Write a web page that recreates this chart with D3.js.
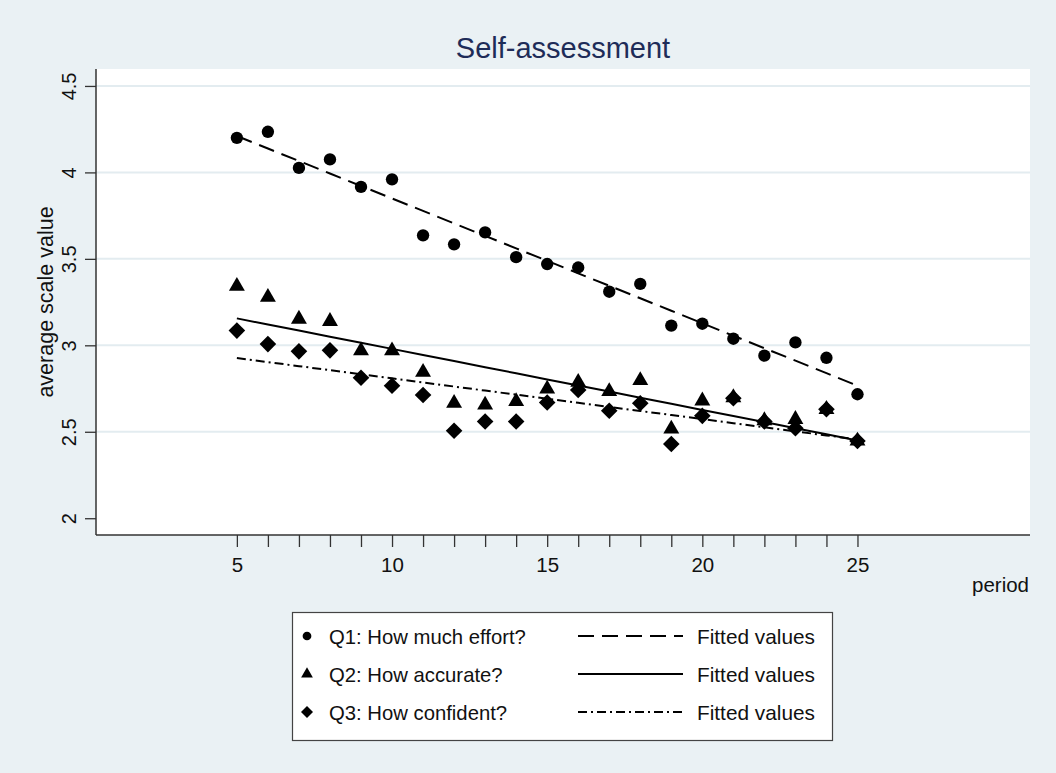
<!DOCTYPE html>
<html>
<head>
<meta charset="utf-8">
<script src="https://cdn.jsdelivr.net/npm/d3@7"></script>
<style>
  html, body { margin: 0; padding: 0; background: #eaf1f4; }
  svg { display: block; }
  text { font-family: "Liberation Sans", Arial, sans-serif; }
</style>
</head>
<body>
<svg id="chart" width="1056" height="773"></svg>
<script>
// ---- data ----
const periods = [5,6,7,8,9,10,11,12,13,14,15,16,17,18,19,20,21,22,23,24,25];
const q1Effort = [4.20,4.235,4.026,4.075,3.916,3.96,3.636,3.584,3.653,3.51,3.47,3.45,3.31,3.355,3.114,3.125,3.038,2.94,3.017,2.928,2.717];
const q2Accurate = [3.342,3.278,3.152,3.139,2.969,2.969,2.845,2.665,2.655,2.675,2.748,2.787,2.733,2.797,2.516,2.679,2.698,2.565,2.572,2.63,2.447];
const q3Confident = [3.085,3.007,2.965,2.971,2.812,2.766,2.713,2.506,2.559,2.559,2.669,2.742,2.622,2.665,2.429,2.592,2.694,2.559,2.52,2.63,2.447];
const seriesNames = ["Q1: How much effort?", "Q2: How accurate?", "Q3: How confident?"];
const fitName = "Fitted values";
const xTicksMajor = [5,10,15,20,25];
const xTicksMinor = d3.range(5, 26);
const yTicks = [2,2.5,3,3.5,4,4.5];
const yTickLabels = ["2","2.5","3","3.5","4","4.5"];
const titleText = "Self-assessment";
const xTitle = "period";
const yTitle = "average scale value";

// ---- layout ----
const svg = d3.select("#chart");
const plot = {left: 96, right: 1030, top: 69, bottom: 535};
const x = d3.scaleLinear().domain([0.46, 30.56]).range([plot.left, plot.right]);
const y = d3.scaleLinear().domain([1.903, 4.598]).range([plot.bottom, plot.top]);
const FONT = "Liberation Sans, Arial, sans-serif";

svg.append("rect").attr("width", 1056).attr("height", 773).attr("fill", "#eaf1f4");
svg.append("rect").attr("x", plot.left).attr("y", plot.top)
  .attr("width", plot.right - plot.left).attr("height", plot.bottom - plot.top).attr("fill", "#ffffff");

// grid
svg.append("g").selectAll("line").data(yTicks.filter(d => d > 2)).join("line")
  .attr("x1", plot.left).attr("x2", plot.right)
  .attr("y1", d => y(d)).attr("y2", d => y(d))
  .attr("stroke", "#e3ecf0").attr("stroke-width", 2);

// axes
const ax = svg.append("g").attr("transform", `translate(0,${plot.bottom})`)
  .call(d3.axisBottom(x).tickValues(xTicksMinor).tickSize(12).tickSizeOuter(0)
    .tickFormat(d => xTicksMajor.includes(d) ? String(d) : ""));
ax.select(".domain").remove();
ax.selectAll(".tick line").attr("stroke", "#333").attr("stroke-width", 1.3);
ax.selectAll(".tick text").attr("font-size", 20.5).attr("fill", "#111")
  .attr("y", 37).attr("dy", null)
  .attr("font-family", FONT);

const ay = svg.append("g").attr("transform", `translate(${plot.left},0)`)
  .call(d3.axisLeft(y).tickValues(yTicks).tickSize(11).tickSizeOuter(0)
    .tickFormat((d, i) => yTickLabels[i]));
ay.select(".domain").remove();
ay.selectAll(".tick line").attr("stroke", "#333").attr("stroke-width", 1.3);
ay.selectAll(".tick text").attr("font-size", 20).attr("fill", "#111")
  .attr("font-family", FONT)
  .attr("x", null).attr("dy", null)
  .attr("text-anchor", "middle")
  .attr("transform", "translate(-20,0) rotate(-90)");

svg.append("line").attr("x1", plot.left).attr("x2", plot.left).attr("y1", plot.top).attr("y2", plot.bottom)
  .attr("stroke", "#333").attr("stroke-width", 1.5);
svg.append("line").attr("x1", plot.left).attr("x2", plot.right).attr("y1", plot.bottom).attr("y2", plot.bottom)
  .attr("stroke", "#333").attr("stroke-width", 1.5);

// titles
svg.append("text").attr("x", (plot.left + plot.right) / 2).attr("y", 58)
  .attr("text-anchor", "middle").attr("font-size", 29).attr("fill", "#1e2c58").text(titleText);
svg.append("text").attr("x", plot.right - 1).attr("y", 592)
  .attr("text-anchor", "end").attr("font-size", 20.5).attr("fill", "#111").text(xTitle);
svg.append("text").attr("transform", `translate(53,${(plot.top + plot.bottom) / 2}) rotate(-90)`)
  .attr("text-anchor", "middle")
  .attr("font-size", 21.5).attr("fill", "#111").text(yTitle);

// regression
function fit(xs, ys) {
  const mx = d3.mean(xs), my = d3.mean(ys);
  let sxy = 0, sxx = 0;
  xs.forEach((xv, i) => { sxy += (xv - mx) * (ys[i] - my); sxx += (xv - mx) ** 2; });
  const b = sxy / sxx, a = my - b * mx;
  return xs.map(xv => a + b * xv);
}

const allSeries = [q1Effort, q2Accurate, q3Confident];
const dashes = ["16,8", null, "9,4,2,4"];
const diamondPath = (s) => `M0,${-s}L${s},0L0,${s}L${-s},0Z`;
const symbols = [
  d3.symbol().type(d3.symbolCircle).size(120)(),
  d3.symbol().type(d3.symbolTriangle).size(110)(),
  diamondPath(8.3)
];
const legendSymbols = [
  d3.symbol().type(d3.symbolCircle).size(60)(),
  d3.symbol().type(d3.symbolTriangle).size(60)(),
  diamondPath(6)
];

// markers
allSeries.forEach((vals, si) => {
  svg.append("g").selectAll("path").data(vals).join("path")
    .attr("d", symbols[si])
    .attr("transform", (d, i) => `translate(${x(periods[i])},${y(d)})`)
    .attr("fill", "#000");
});

// fitted lines
const line = d3.line().x((d, i) => x(periods[i])).y(d => y(d));
allSeries.forEach((vals, si) => {
  const fv = fit(periods, vals);
  svg.append("path").datum(fv).attr("d", line)
    .attr("fill", "none").attr("stroke", "#000").attr("stroke-width", 2)
    .attr("stroke-dasharray", dashes[si]);
});

// legend
const lg = svg.append("g");
lg.append("rect").attr("x", 292.5).attr("y", 612.5).attr("width", 540).attr("height", 128)
  .attr("fill", "#fff").attr("stroke", "#444").attr("stroke-width", 1.2);
const rowY = [636, 674, 712];
seriesNames.forEach((name, i) => {
  lg.append("path").attr("d", legendSymbols[i]).attr("transform", `translate(307,${rowY[i]})`).attr("fill", "#000");
  lg.append("text").attr("x", 329).attr("y", rowY[i] + 7.5)
    .attr("font-size", 20.3).attr("fill", "#111").text(name);
  lg.append("line").attr("x1", 578).attr("x2", 683).attr("y1", rowY[i]).attr("y2", rowY[i])
    .attr("stroke", "#000").attr("stroke-width", 2).attr("stroke-dasharray", dashes[i]);
  lg.append("text").attr("x", 697).attr("y", rowY[i] + 7.5)
    .attr("font-size", 20.8).attr("fill", "#111").text(fitName);
});
</script>
</body>
</html>
